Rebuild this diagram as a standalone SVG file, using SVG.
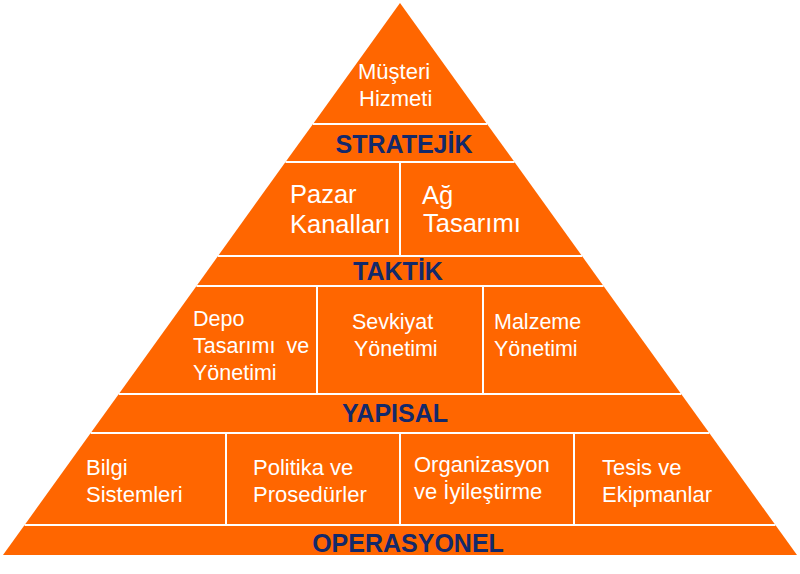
<svg xmlns="http://www.w3.org/2000/svg" width="800" height="574" viewBox="0 0 800 574">
  <style>
    .cell { fill: #FF6600; stroke: none; }
    .txt { font-family: "Liberation Sans", Arial, sans-serif; fill: #FFFFFF; }
    .t22 { font-size: 22px; }
    .t21 { font-size: 21.5px; }
    .t25 { font-size: 25.5px; }
    .band { font-family: "Liberation Sans", Arial, sans-serif; font-weight: bold; font-size: 25px; fill: #13296B; text-anchor: middle; }
    .div { stroke: #FFFFFF; stroke-width: 2; fill: none; }
  </style>
  <rect width="800" height="574" fill="#FFFFFF"/>

  <g id="musteri-hizmeti">
    <polygon class="cell" points="400,3 487,124 313,124"/>
    <text class="txt t22" x="358" y="79">Müşteri</text>
    <text class="txt t22" x="359" y="106">Hizmeti</text>
  </g>
  <g id="stratejik">
    <polygon class="cell" points="313,124 487,124 514.5,162 285.5,162"/>
    <text class="band" x="404" y="153">STRATEJİK</text>
  </g>
  <g id="pazar-kanallari">
    <polygon class="cell" points="285.5,162 400,162 400,256 218,256"/>
    <text class="txt t25" x="290" y="203">Pazar</text>
    <text class="txt t25" x="290" y="233">Kanalları</text>
  </g>
  <g id="ag-tasarimi">
    <polygon class="cell" points="400,162 514.5,162 582,256 400,256"/>
    <text class="txt t25" x="422" y="204">Ağ</text>
    <text class="txt t25" x="423" y="232">Tasarımı</text>
  </g>
  <g id="taktik">
    <polygon class="cell" points="218,256 582,256 603.5,286 196.5,286"/>
    <text class="band" x="398" y="280">TAKTİK</text>
  </g>
  <g id="depo">
    <polygon class="cell" points="196.5,286 317,286 317,394 118.8,394"/>
    <text class="txt t21" x="193" y="326">Depo</text>
    <text class="txt t21" x="193" y="353" word-spacing="5">Tasarımı ve</text>
    <text class="txt t21" x="193" y="380">Yönetimi</text>
  </g>
  <g id="sevkiyat">
    <polygon class="cell" points="317,286 483,286 483,394 317,394"/>
    <text class="txt t21" x="352" y="329">Sevkiyat</text>
    <text class="txt t21" x="354" y="356">Yönetimi</text>
  </g>
  <g id="malzeme">
    <polygon class="cell" points="483,286 603.5,286 681.2,394 483,394"/>
    <text class="txt t21" x="494" y="329">Malzeme</text>
    <text class="txt t21" x="494" y="356">Yönetimi</text>
  </g>
  <g id="yapisal">
    <polygon class="cell" points="118.8,394 681.2,394 709.3,433 90.7,433"/>
    <text class="band" x="395" y="421.5">YAPISAL</text>
  </g>
  <g id="bilgi">
    <polygon class="cell" points="90.7,433 226,433 226,525 24.6,525"/>
    <text class="txt t22" x="86" y="475">Bilgi</text>
    <text class="txt t22" x="86" y="502">Sistemleri</text>
  </g>
  <g id="politika">
    <polygon class="cell" points="226,433 400,433 400,525 226,525"/>
    <text class="txt t22" x="253" y="475">Politika ve</text>
    <text class="txt t22" x="253" y="502">Prosedürler</text>
  </g>
  <g id="organizasyon">
    <polygon class="cell" points="400,433 574,433 574,525 400,525"/>
    <text class="txt t22" x="414" y="472">Organizasyon</text>
    <text class="txt t22" x="414" y="499">ve İyileştirme</text>
  </g>
  <g id="tesis">
    <polygon class="cell" points="574,433 709.3,433 775.4,525 574,525"/>
    <text class="txt t22" x="602" y="475">Tesis ve</text>
    <text class="txt t22" x="602" y="502">Ekipmanlar</text>
  </g>
  <g id="operasyonel">
    <polygon class="cell" points="24.6,525 775.4,525 797,555 3,555"/>
    <text class="band" x="408" y="552">OPERASYONEL</text>
  </g>

  <g id="connectors">
    <line class="div" x1="313" y1="124" x2="487" y2="124"/>
    <line class="div" x1="285.5" y1="162" x2="514.5" y2="162"/>
    <line class="div" x1="400" y1="162" x2="400" y2="256"/>
    <line class="div" x1="218" y1="256" x2="582" y2="256"/>
    <line class="div" x1="196.5" y1="286" x2="603.5" y2="286"/>
    <line class="div" x1="317" y1="286" x2="317" y2="394"/>
    <line class="div" x1="483" y1="286" x2="483" y2="394"/>
    <line class="div" x1="118.8" y1="394" x2="681.2" y2="394"/>
    <line class="div" x1="90.7" y1="433" x2="709.3" y2="433"/>
    <line class="div" x1="226" y1="433" x2="226" y2="525"/>
    <line class="div" x1="400" y1="433" x2="400" y2="525"/>
    <line class="div" x1="574" y1="433" x2="574" y2="525"/>
    <line class="div" x1="24.6" y1="525" x2="775.4" y2="525"/>
  </g>
</svg>
